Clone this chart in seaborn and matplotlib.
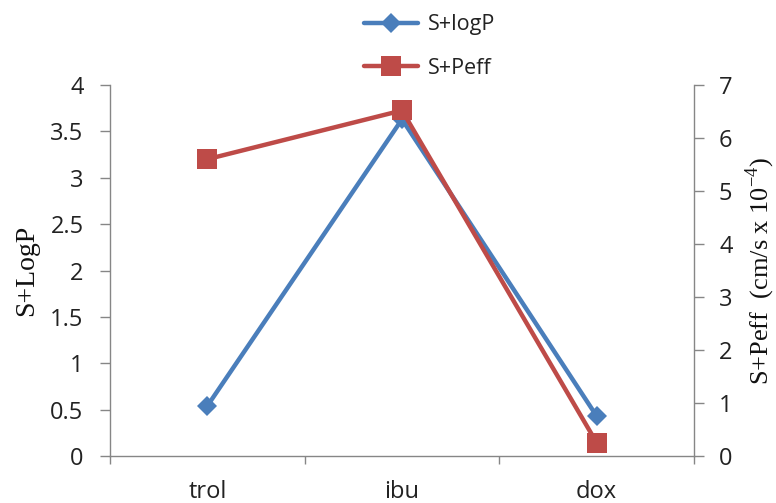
import numpy as np
import pandas as pd
import matplotlib
matplotlib.use("Agg")
import matplotlib.pyplot as plt
import seaborn as sns
from matplotlib.lines import Line2D

# Compounds and predicted properties
compounds = ["trol", "ibu", "dox"]
s_logp = [0.54, 3.63, 0.43]
s_peff = [5.6, 6.52, 0.25]

blue = "#4A7EBB"
red = "#BE4B48"
grey = "#868686"

sns.set_theme(style="white")
plt.rcParams["font.family"] = ["Open Sans", "DejaVu Sans"]

df = pd.DataFrame({"pos": np.arange(len(compounds)), "compound": compounds,
                   "S+logP": s_logp, "S+Peff": s_peff})

fig = plt.figure(figsize=(7.76, 5.03), dpi=100)
ax = fig.add_axes([110 / 776, 47 / 503, 584 / 776, 371 / 503])
ax2 = ax.twinx()

sns.lineplot(data=df, x="pos", y="S+logP", ax=ax, color=blue, lw=3.2,
             marker="D", markersize=10, markeredgewidth=0, legend=False)
sns.lineplot(data=df, x="pos", y="S+Peff", ax=ax2, color=red, lw=3.2,
             marker="s", markersize=14, markeredgewidth=0, legend=False)

ax.set_xlim(-0.5, 2.5)
ax.set_ylim(0, 4)
ax2.set_ylim(0, 7)
ax.set_yticks(np.arange(0, 4.01, 0.5))
ax.set_yticklabels(["0", "0.5", "1", "1.5", "2", "2.5", "3", "3.5", "4"])
ax2.set_yticks(np.arange(0, 8, 1))

# category boundaries as major ticks, names centred as minor labels
ax.set_xticks([-0.5, 0.5, 1.5, 2.5])
ax.set_xticklabels([])
ax.set_xticks(df["pos"], minor=True)
ax.set_xticklabels(compounds, minor=True)
ax.tick_params(axis="x", which="minor", length=0, pad=17, labelsize=17, colors="#222222")
ax.tick_params(axis="x", which="major", direction="out", length=6, width=1, color=grey, bottom=True)

ax.tick_params(axis="y", direction="out", length=7, width=1, color=grey, left=True,
               labelsize=17, labelcolor="#222222", pad=12)
ax2.tick_params(axis="y", direction="out", length=7, width=1, color=grey, right=True,
                labelsize=17, labelcolor="#222222", pad=11)

for a in (ax, ax2):
    a.grid(False)
    for s in a.spines.values():
        s.set_visible(False)
ax.spines["left"].set_visible(True)
ax.spines["bottom"].set_visible(True)
ax2.spines["right"].set_visible(True)
for s in (ax.spines["left"], ax.spines["bottom"], ax2.spines["right"]):
    s.set_color(grey)
    s.set_linewidth(1)

ax.set_xlabel("")
ax.set_ylabel("S+LogP", family="Liberation Serif", fontsize=20, labelpad=8, color="#111111")
ax2.set_ylabel(r"S+Peff  (cm/s x 10$^{\mathregular{-4}}$)", family="Liberation Serif",
               fontsize=19, labelpad=8, color="#111111")

handles = [
    Line2D([], [], color=blue, lw=3.2, marker="D", markersize=10, markeredgewidth=0),
    Line2D([], [], color=red, lw=3.2, marker="s", markersize=14, markeredgewidth=0),
]
fig.legend(handles, ["S+logP", "S+Peff"], loc="upper left",
           bbox_to_anchor=(345 / 776, 1.01), frameon=False, fontsize=15.5,
           labelspacing=1.05, handlelength=2.5, handletextpad=0.45,
           labelcolor="#222222")

fig.savefig("out.png", dpi=100)
